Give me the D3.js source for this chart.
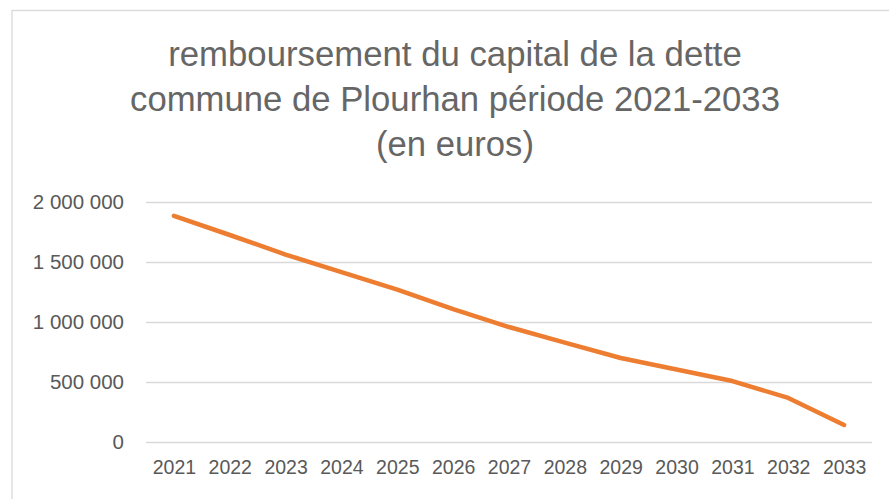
<!DOCTYPE html>
<html>
<head>
<meta charset="utf-8">
<script src="https://cdn.jsdelivr.net/npm/d3@7"></script>
<style>
  body { margin: 0; background: #fff; }
  svg { display: block; font-family: "Liberation Sans", Arial, sans-serif; }
</style>
</head>
<body>
<div id="chart"></div>
<script>
// data
var years = ["2021", "2022", "2023", "2024", "2025", "2026", "2027",
  "2028", "2029", "2030", "2031", "2032", "2033"];
var capital = [1885000, 1725000, 1562000, 1415000, 1270000, 1108000, 958000,
  828000, 700000, 604000, 508000, 367000, 142000];
var yTicks = [0, 500000, 1000000, 1500000, 2000000];
var titleLines = ["remboursement du capital de la dette",
  "commune de Plourhan période 2021-2033",
  "(en euros)"];

// settings
var svgWidth = 889;
var svgHeight = 499;
var textColor = "#595959";
var gridColor = "#d9d9d9";
var lineColor = "#ed7d31";

var margin = { top: 202, right: 17, bottom: 57, left: 146 };
var width = svgWidth - margin.left - margin.right;
var height = svgHeight - margin.top - margin.bottom;

var svg = d3.select("#chart")
  .append("svg")
  .attr("width", svgWidth)
  .attr("height", svgHeight);

// chart frame (runs off the picture on the right and bottom)
svg.append("rect")
  .attr("x", 12)
  .attr("y", 10.5)
  .attr("width", 1000)
  .attr("height", 1000)
  .attr("fill", "none")
  .attr("stroke", gridColor)
  .attr("stroke-width", 1.3);

// title, each line fitted to its width in the picture
var titleWidths = [574, 650, 158];
var titleGroup = svg.append("g");
titleLines.forEach(function (line, i) {
  var t = titleGroup.append("text")
    .attr("x", 455)
    .attr("y", 66 + i * 45)
    .attr("text-anchor", "middle")
    .attr("fill", "#666")
    .attr("font-size", "30px")
    .text(line);
  var w = t.node().getComputedTextLength();
  t.attr("font-size", (30 * titleWidths[i] / w) + "px");
});

var chartGroup = svg.append("g")
  .attr("transform", `translate(${margin.left}, ${margin.top})`);

var xScale = d3.scalePoint()
  .domain(years)
  .range([0, width])
  .padding(0.5);

var yScale = d3.scaleLinear()
  .domain([0, 2000000])
  .range([height, 0]);

var fmt = function (d) {
  return d3.format(",")(d).replace(/,/g, " ");
};

// y axis with gridlines
var yAxis = chartGroup.append("g")
  .call(d3.axisLeft(yScale)
    .tickValues(yTicks)
    .tickSize(-width)
    .tickPadding(22)
    .tickFormat(fmt));
yAxis.select(".domain").remove();
yAxis.selectAll(".tick line")
  .attr("stroke", gridColor)
  .attr("stroke-width", 1.3);
yAxis.selectAll(".tick text")
  .attr("fill", textColor)
  .attr("font-size", "20.5px")
  .attr("font-family", "Liberation Sans, Arial, sans-serif");

// x axis labels
var xAxis = chartGroup.append("g")
  .attr("transform", `translate(0, ${height})`)
  .call(d3.axisBottom(xScale).tickSize(0).tickPadding(18));
xAxis.select(".domain").remove();
xAxis.selectAll(".tick text")
  .attr("fill", textColor)
  .attr("font-size", "19.5px")
  .attr("font-family", "Liberation Sans, Arial, sans-serif");

// the line
var line = d3.line()
  .x(function (d, i) { return xScale(years[i]); })
  .y(function (d) { return yScale(d); });

chartGroup.append("path")
  .datum(capital)
  .attr("d", line)
  .attr("fill", "none")
  .attr("stroke", lineColor)
  .attr("stroke-width", 4.5)
  .attr("stroke-linecap", "round")
  .attr("stroke-linejoin", "round");
</script>
</body>
</html>
